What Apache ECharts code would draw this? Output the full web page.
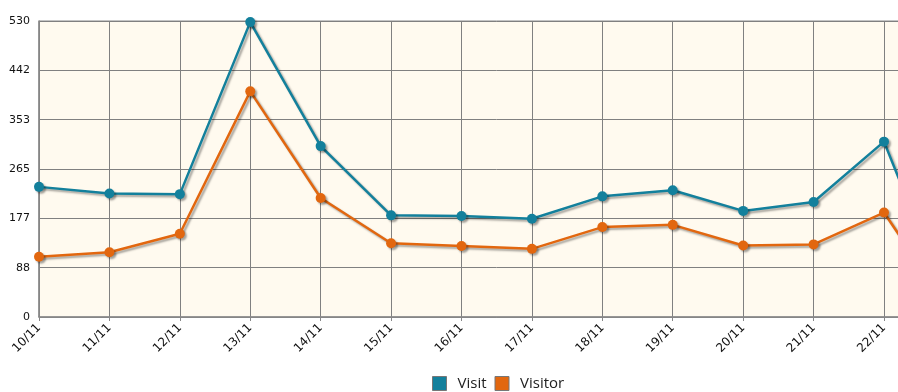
<!DOCTYPE html>
<html>
<head>
<meta charset="utf-8">
<script src="https://cdn.jsdelivr.net/npm/echarts@6/dist/echarts.min.js"></script>
<style>
html,body{margin:0;padding:0;background:#fff;overflow:hidden;width:898px;height:392px;}
#c{width:1000px;height:392px;}
</style>
</head>
<body>
<div id="c"></div>
<script>
const categories = ['10/11','11/11','12/11','13/11','14/11','15/11','16/11','17/11','18/11','19/11','20/11','21/11','22/11','23/11'];
const visit   = [233, 221, 220, 528, 306, 182, 181, 176, 216, 227, 190, 206, 314, 0];
const visitor = [108, 116, 149, 404, 213, 132, 127, 122, 161, 165, 128, 130, 187, 0];
const yMax = 530;

const chart = echarts.init(document.getElementById('c'), null, {renderer:'canvas'});
const shadow = {shadowColor:'rgba(0,0,0,0.35)', shadowBlur:2, shadowOffsetX:2, shadowOffsetY:2};
chart.setOption({
  animation:false,
  backgroundColor:'#ffffff',
  grid:{left:39, right:45.6, top:21, bottom:75, show:true, backgroundColor:'#FFFAEF', borderColor:'#888888', borderWidth:1},
  legend:{
    left:427, top:371, itemWidth:14, itemHeight:14, itemGap:8,
    icon:'rect',
    textStyle:{fontFamily:'Open Sans', fontSize:15, color:'#222', padding:[0,0,0,6]},
    data:[
      {name:'Visit', itemStyle:{color:'#13809C', borderColor:'#777', borderWidth:1}},
      {name:'Visitor', itemStyle:{color:'#E2670F', borderColor:'#777', borderWidth:1}}
    ]
  },
  xAxis:{
    type:'category', data:categories, boundaryGap:false,
    axisLine:{lineStyle:{color:'#888888', width:1.5}},
    axisTick:{show:true, length:4, lineStyle:{color:'#888888'}},
    splitLine:{show:true, lineStyle:{color:'#808080', width:1}},
    axisLabel:{rotate:45, fontFamily:'DejaVu Sans', fontSize:12, color:'#111', margin:9, interval:0}
  },
  yAxis:{
    type:'value', min:0, max:yMax, interval:yMax/6,
    axisLine:{show:true, lineStyle:{color:'#888888', width:1.5}},
    axisTick:{show:false},
    splitLine:{show:true, lineStyle:{color:'#808080', width:1}},
    axisLabel:{fontFamily:'DejaVu Sans', fontSize:11, color:'#111', margin:9,
      formatter:v=>String(Math.round(v))}
  },
  series:[
    {name:'Visit', type:'line', data:visit, symbol:'circle', symbolSize:10,
     lineStyle:Object.assign({color:'#13809C', width:2.5}, shadow),
     itemStyle:Object.assign({color:'#13809C'}, shadow)},
    {name:'Visitor', type:'line', data:visitor, symbol:'circle', symbolSize:10,
     lineStyle:Object.assign({color:'#E2670F', width:2.5}, shadow),
     itemStyle:Object.assign({color:'#E2670F'}, shadow)}
  ]
});
</script>
</body>
</html>
